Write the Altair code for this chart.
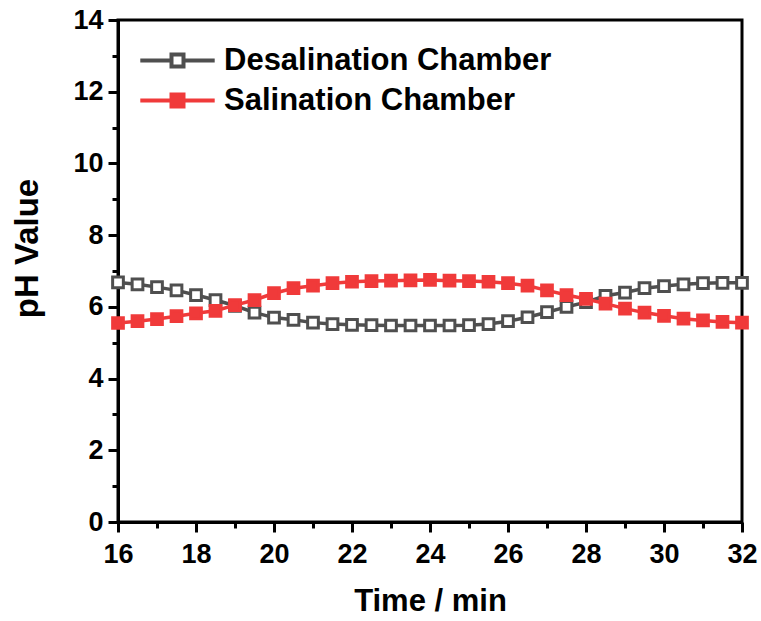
import altair as alt
import pandas as pd

times = [16, 16.5, 17, 17.5, 18, 18.5, 19, 19.5, 20, 20.5, 21, 21.5, 22, 22.5, 23, 23.5,
         24, 24.5, 25, 25.5, 26, 26.5, 27, 27.5, 28, 28.5, 29, 29.5, 30, 30.5, 31, 31.5, 32]
desal = [6.68, 6.63, 6.55, 6.46, 6.33, 6.19, 6.03, 5.84, 5.70, 5.64, 5.56, 5.52, 5.50, 5.49, 5.48, 5.48,
         5.48, 5.48, 5.49, 5.52, 5.60, 5.71, 5.85, 6.00, 6.13, 6.31, 6.40, 6.52, 6.58, 6.63, 6.66, 6.67, 6.67]
sal = [5.55, 5.60, 5.66, 5.74, 5.82, 5.89, 6.05, 6.19, 6.38, 6.52, 6.59, 6.66, 6.70, 6.72, 6.73, 6.74,
       6.75, 6.73, 6.72, 6.70, 6.66, 6.59, 6.46, 6.33, 6.22, 6.09, 5.95, 5.84, 5.75, 5.67, 5.62, 5.58, 5.56]
series_names = ["Desalination Chamber", "Salination Chamber"]
x_ticks = [16, 17, 18, 19, 20, 21, 22, 23, 24, 25, 26, 27, 28, 29, 30, 31, 32]
y_ticks = [0, 1, 2, 3, 4, 5, 6, 7, 8, 9, 10, 11, 12, 13, 14]

GRAY = "#4f4f4f"
RED = "#f03a3a"
FONT = "Liberation Sans"

df = pd.DataFrame({
    "Time": times * 2,
    "pH": desal + sal,
    "Series": [series_names[0]] * len(times) + [series_names[1]] * len(times),
})

minor_size = {"condition": {"test": "datum.value % 2 !== 0", "value": 6}, "value": 10}

x_enc = alt.X("Time:Q", scale=alt.Scale(domain=[16, 32], nice=False, zero=False),
              axis=alt.Axis(values=x_ticks, title="Time / min", grid=False,
                            labelExpr="datum.value % 2 ? '' : datum.label",
                            tickSize=minor_size, tickWidth=3, tickColor="black",
                            domainColor="black", domainWidth=3,
                            labelFont=FONT, labelFontSize=27, labelFontWeight="bold",
                            labelColor="black", labelPadding=9, labelFlush=False,
                            titleFont=FONT, titleFontSize=31, titleFontWeight="bold",
                            titleColor="black", titlePadding=19))
y_enc = alt.Y("pH:Q", scale=alt.Scale(domain=[0, 14], nice=False),
              axis=alt.Axis(values=y_ticks, title="pH Value", grid=False,
                            labelExpr="datum.value % 2 ? '' : datum.label",
                            tickSize=minor_size, tickWidth=3, tickColor="black",
                            domainColor="black", domainWidth=3,
                            labelFont=FONT, labelFontSize=27, labelFontWeight="bold",
                            labelColor="black", labelPadding=5, labelFlush=False,
                            titleFont=FONT, titleFontSize=33, titleFontWeight="bold",
                            titleColor="black", titlePadding=28, titleY=228))

color_scale = alt.Scale(domain=series_names, range=[GRAY, RED])
fill_scale = alt.Scale(domain=series_names, range=["white", RED])

legend_path = "M-6.2,0H-1M1,0H6.2M-1,-1H1V1H-1Z"
legend = alt.Legend(title=None, orient="none", legendX=44, legendY=25,
                    symbolType=legend_path, symbolSize=144, symbolStrokeWidth=4,
                    labelFont=FONT, labelFontSize=31, labelFontWeight="bold",
                    labelColor="black", labelOffset=31, rowPadding=8, padding=0,
                    labelLimit=500)

layers = []
for name in series_names:
    sub = df[df["Series"] == name]
    base = alt.Chart(sub)
    line = base.mark_line(strokeWidth=3.5).encode(
        x=x_enc, y=y_enc,
        color=alt.Color("Series:N", scale=color_scale, legend=legend),
    )
    pts = base.mark_point(shape="square", filled=False, size=115, strokeWidth=3, opacity=1).encode(
        x=x_enc, y=y_enc,
        color=alt.Color("Series:N", scale=color_scale, legend=legend),
        fill=alt.Fill("Series:N", scale=fill_scale, legend=legend),
    )
    layers += [line, pts]

chart = alt.layer(*layers).properties(
    width=624, height=502,
    padding={"left": 118, "top": 20, "right": 19, "bottom": 99},
    autosize=alt.AutoSizeParams(type="none"),
    background="white",
).configure_view(stroke="black", strokeWidth=3)

chart.save("out.html", embed_options={"renderer": "svg", "actions": False})
